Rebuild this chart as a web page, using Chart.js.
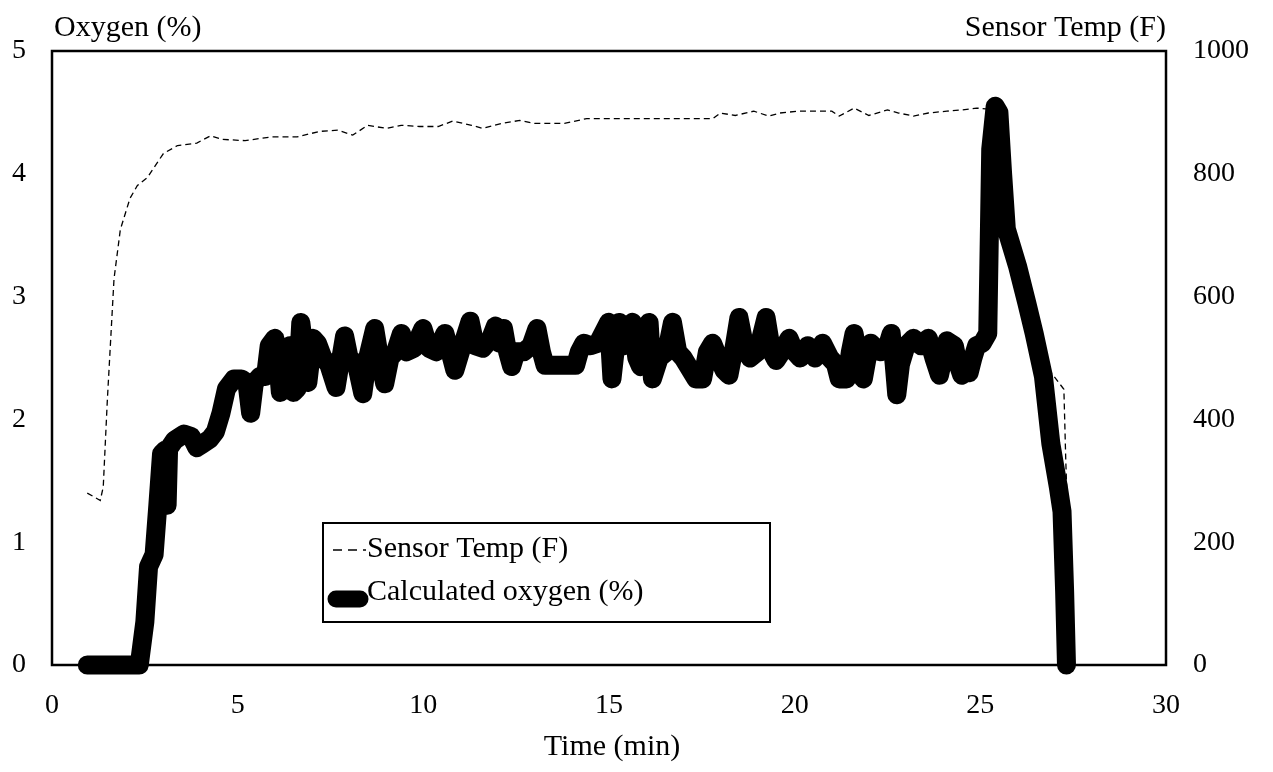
<!DOCTYPE html>
<html>
<head>
<meta charset="utf-8">
<script src="https://cdn.jsdelivr.net/npm/chart.js@4.4.1/dist/chart.umd.min.js"></script>
<style>
    html, body { margin: 0; padding: 0; background: #fff; }
    #wrap { width: 1273px; height: 772px; }
</style>
</head>
<body>
<div id="wrap"><canvas id="chart" width="1273" height="772"></canvas></div>
<script>
// Calculated oxygen (%) vs time (min), left axis
const oxyTime = [0.95, 1.5, 2.0, 2.35, 2.5, 2.6, 2.75, 2.85, 2.95, 3.05, 3.1, 3.14, 3.3, 3.55, 3.75, 3.9, 4.05, 4.25, 4.4,
    4.55, 4.7, 4.9, 5.1, 5.25, 5.35, 5.45, 5.6, 5.75, 5.85, 6.0, 6.1, 6.15, 6.3, 6.4, 6.5, 6.6, 6.7, 6.8, 6.89, 7.03,
    7.15, 7.3, 7.45, 7.65, 7.78, 7.88, 8.0, 8.2, 8.37, 8.5, 8.69, 8.82, 8.96, 9.1, 9.25, 9.41, 9.55, 9.75, 9.99, 10.15,
    10.35, 10.58, 10.72, 10.85, 11.0, 11.26, 11.4, 11.6, 11.8, 11.94, 12.05, 12.16, 12.27, 12.38, 12.5, 12.7, 12.9, 13.06, 13.18, 13.28,
    13.6, 14.1, 14.2, 14.32, 14.5, 14.7, 14.99, 15.08, 15.18, 15.27, 15.4, 15.63, 15.75, 15.85, 15.97, 16.08, 16.17, 16.35, 16.55, 16.71,
    16.85, 17.0, 17.34, 17.52, 17.65, 17.79, 17.95, 18.1, 18.23, 18.35, 18.5, 18.65, 18.8, 19.0, 19.23, 19.38, 19.5, 19.65, 19.85, 20.0,
    20.15, 20.35, 20.55, 20.75, 20.95, 21.1, 21.2, 21.4, 21.5, 21.6, 21.72, 21.85, 21.95, 22.05, 22.3, 22.5, 22.6, 22.68, 22.75, 22.85,
    23.0, 23.2, 23.4, 23.6, 23.75, 23.9, 24.0, 24.1, 24.3, 24.4, 24.5, 24.6, 24.7, 24.8, 24.9, 25.05, 25.2, 25.28, 25.4, 25.5,
    25.6, 25.7, 25.85, 26.0, 26.25, 26.45, 26.7, 26.9, 27.1, 27.2, 27.27, 27.32];
const oxyValues = [0, 0, 0, 0, 0.35, 0.8, 0.9, 1.3, 1.72, 1.75, 1.3, 1.76, 1.83, 1.88, 1.86, 1.77, 1.8, 1.84, 1.9,
    2.05, 2.25, 2.33, 2.33, 2.3, 2.05, 2.3, 2.35, 2.35, 2.6, 2.66, 2.4, 2.22, 2.55, 2.6, 2.22, 2.25, 2.79, 2.55, 2.3, 2.66,
    2.62, 2.5, 2.45, 2.26, 2.5, 2.68, 2.5, 2.45, 2.21, 2.5, 2.74, 2.5, 2.29, 2.5, 2.55, 2.7, 2.55, 2.58, 2.74, 2.58,
    2.55, 2.7, 2.55, 2.4, 2.55, 2.8, 2.6, 2.58, 2.65, 2.76, 2.62, 2.74, 2.55, 2.43, 2.55, 2.55, 2.6, 2.74, 2.55, 2.44,
    2.44, 2.44, 2.55, 2.62, 2.6, 2.62, 2.79, 2.33, 2.6, 2.79, 2.6, 2.79, 2.5, 2.43, 2.55, 2.79, 2.33, 2.5, 2.55, 2.79,
    2.55, 2.5, 2.33, 2.33, 2.55, 2.62, 2.5, 2.4, 2.36, 2.55, 2.83, 2.6, 2.5, 2.55, 2.83, 2.55, 2.48, 2.55, 2.66, 2.55,
    2.5, 2.6, 2.5, 2.62, 2.5, 2.45, 2.33, 2.33, 2.55, 2.7, 2.5, 2.33, 2.5, 2.62, 2.55, 2.6, 2.7, 2.45, 2.2, 2.45,
    2.6, 2.66, 2.6, 2.66, 2.5, 2.36, 2.5, 2.64, 2.6, 2.45, 2.36, 2.4, 2.38, 2.5, 2.6, 2.62, 2.7, 4.2, 4.55, 4.5,
    4.0, 3.55, 3.4, 3.25, 2.95, 2.7, 2.35, 1.8, 1.45, 1.25, 0.6, 0];

// Sensor temperature (F), right axis
const tempTime = [0.95, 1.3, 1.38, 1.49, 1.67, 1.84, 2.1, 2.3, 2.57, 2.8, 3.0, 3.38, 3.9, 4.27, 4.6, 5.2, 5.9, 6.6, 7.2, 7.7,
    8.1, 8.5, 9.0, 9.4, 9.9, 10.4, 10.8, 11.3, 11.6, 12.1, 12.6, 13.0, 13.4, 13.8, 14.4, 15.5, 16.5, 17.8, 18.0, 18.4,
    18.9, 19.3, 19.6, 20.1, 21.0, 21.2, 21.6, 22.0, 22.5, 22.8, 23.2, 23.6, 24.1, 24.5, 24.9, 25.3, 25.55, 25.7, 25.85, 26.1,
    26.45, 26.75, 26.9, 27.25, 27.3, 27.33];
const tempValues = [280, 268, 290, 431, 629, 709, 760, 781, 794, 815, 833, 846, 850, 862, 856, 854, 860, 860, 869, 871,
    863, 879, 874, 879, 877, 877, 886, 879, 874, 882, 887, 882, 882, 882, 890, 890, 890, 890, 899, 895,
    902, 894, 899, 902, 902, 894, 907, 895, 904, 899, 894, 899, 902, 904, 907, 905, 900, 820, 700, 630,
    540, 470, 477, 449, 335, 280];

const xTicks = [0, 5, 10, 15, 20, 25, 30];
const oxyTicks = [0, 1, 2, 3, 4, 5];
const tempTicks = [0, 200, 400, 600, 800, 1000];

const FONT = '"Liberation Serif", "Times New Roman", serif';

const toPoints = (xs, ys) => xs.map((x, i) => ({ x: x, y: ys[i] }));

const framePlugin = {
    id: 'frame',
    beforeDatasetsDraw(chart) {
        const { ctx, chartArea: a } = chart;
        ctx.save();
        ctx.strokeStyle = '#000';
        ctx.lineWidth = 2.5;
        ctx.strokeRect(a.left, a.top, a.right - a.left, a.bottom - a.top);
        ctx.restore();
    }
};

const textPlugin = {
    id: 'texts',
    afterDraw(chart) {
        const { ctx, chartArea: a } = chart;
        ctx.save();
        ctx.fillStyle = '#000';
        ctx.font = '30px ' + FONT;
        ctx.textBaseline = 'alphabetic';
        ctx.textAlign = 'left';
        ctx.fillText('Oxygen (%)', a.left + 2, 36);
        ctx.textAlign = 'right';
        ctx.fillText('Sensor Temp (F)', a.right, 36);
        ctx.textAlign = 'center';
        ctx.fillText('Time (min)', 612, 755);

        // legend box
        const lx = 323, ly = 523, lw = 447, lh = 99;
        ctx.fillStyle = '#fff';
        ctx.fillRect(lx, ly, lw, lh);
        ctx.strokeStyle = '#000';
        ctx.lineWidth = 2;
        ctx.strokeRect(lx, ly, lw, lh);

        const sets = chart.data.datasets;
        ctx.lineWidth = 1.5;
        ctx.setLineDash([9, 6]);
        ctx.beginPath();
        ctx.moveTo(333, 550);
        ctx.lineTo(366, 550);
        ctx.stroke();
        ctx.setLineDash([]);

        ctx.lineWidth = 17;
        ctx.lineCap = 'round';
        ctx.beginPath();
        ctx.moveTo(336, 599);
        ctx.lineTo(360, 599);
        ctx.stroke();

        ctx.fillStyle = '#000';
        ctx.textAlign = 'left';
        ctx.fillText(sets[1].label, 367, 557);
        ctx.fillText(sets[0].label, 367, 600);
        ctx.restore();
    }
};

const plainTick = (v) => String(v);

const chart = new Chart(document.getElementById('chart'), {
    type: 'line',
    data: {
        datasets: [
            {
                label: 'Calculated oxygen (%)',
                data: toPoints(oxyTime, oxyValues),
                yAxisID: 'y',
                borderColor: '#000',
                borderWidth: 19,
                borderJoinStyle: 'round',
                borderCapStyle: 'round',
                pointRadius: 0,
                tension: 0,
                clip: 20,
                order: 0
            },
            {
                label: 'Sensor Temp (F)',
                data: toPoints(tempTime, tempValues),
                yAxisID: 'y2',
                borderColor: '#000',
                borderWidth: 1.3,
                borderDash: [6, 4],
                pointRadius: 0,
                tension: 0,
                order: 1
            }
        ]
    },
    options: {
        responsive: false,
        animation: false,
        layout: { padding: { top: 51, left: 0, right: 0, bottom: 0 } },
        plugins: { legend: { display: false }, tooltip: { enabled: false } },
        scales: {
            x: {
                type: 'linear',
                min: xTicks[0],
                max: xTicks[xTicks.length - 1],
                afterBuildTicks: (s) => { s.ticks = xTicks.map(v => ({ value: v })); },
                afterFit: (s) => { s.height = 107; },
                grid: { display: false, drawTicks: false },
                border: { display: false },
                ticks: { color: '#000', font: { family: FONT, size: 28 }, padding: 24, maxRotation: 0, callback: plainTick }
            },
            y: {
                position: 'left',
                min: oxyTicks[0],
                max: oxyTicks[oxyTicks.length - 1],
                afterBuildTicks: (s) => { s.ticks = oxyTicks.map(v => ({ value: v })); },
                afterFit: (s) => { s.width = 52; },
                grid: { display: false, drawTicks: false },
                border: { display: false },
                ticks: { color: '#000', font: { family: FONT, size: 28 }, padding: 26, callback: plainTick }
            },
            y2: {
                position: 'right',
                min: tempTicks[0],
                max: tempTicks[tempTicks.length - 1],
                afterBuildTicks: (s) => { s.ticks = tempTicks.map(v => ({ value: v })); },
                afterFit: (s) => { s.width = 107; },
                grid: { display: false, drawTicks: false },
                border: { display: false },
                ticks: { color: '#000', font: { family: FONT, size: 28 }, padding: 27, callback: plainTick }
            }
        }
    },
    plugins: [framePlugin, textPlugin]
});
</script>
</body>
</html>
